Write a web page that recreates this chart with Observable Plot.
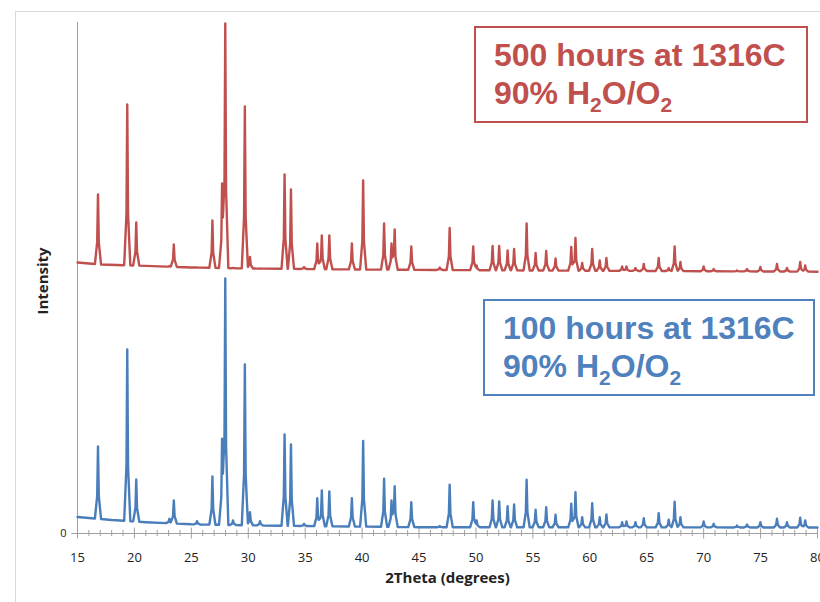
<!DOCTYPE html>
<html>
<head>
<meta charset="utf-8">
<script src="https://cdn.jsdelivr.net/npm/d3@7"></script>
<script src="https://cdn.jsdelivr.net/npm/@observablehq/plot@0.6"></script>
<style>
  body { margin: 0; background: #fff; }
  #wrap { position: relative; width: 820px; height: 602px; overflow: hidden; background: #fff; }
  #border { position: absolute; left: 15px; top: 11px; width: 900px; height: 700px; border: 1px solid #d9d9d9; }
  #chart { position: absolute; left: 0; top: 0; }
  .box { position: absolute; box-sizing: border-box; background: #fff;
         font-family: "Liberation Sans", Arial, sans-serif; font-weight: bold;
         font-size: 32px; line-height: 38px; white-space: nowrap; }
  .box .sub { font-size: 21px; position: relative; top: 8px; vertical-align: baseline; line-height: 0; }
  #boxRed { left: 474px; top: 26px; width: 334px; height: 97px; border: 2px solid #c0504d; color: #c0504d; padding: 8px 0 0 18px; }
  #boxBlue { left: 483px; top: 299px; width: 332px; height: 97px; border: 2px solid #4f81bd; color: #4f81bd; padding: 8px 0 0 18px; }
</style>
</head>
<body>
<div id="wrap">
  <div id="border"></div>
  <div id="chart"></div>
  <div class="box" id="boxRed"><div>500 hours at 1316C</div><div>90% H<span class="sub">2</span>O/O<span class="sub">2</span></div></div>
  <div class="box" id="boxBlue"><div>100 hours at 1316C</div><div>90% H<span class="sub">2</span>O/O<span class="sub">2</span></div></div>
</div>
<script>
// Peak positions (2Theta, degrees), shared by both patterns
const peakPos = [16.8, 19.37, 20.16, 23.07, 23.46, 25.5, 26.85, 27.7, 27.98, 28.66,
  29.7, 30.15, 31.03, 33.19, 33.75, 34.9, 36.06, 36.46, 37.12, 39.1,
  40.09, 41.93, 42.58, 42.86, 44.32, 46.82, 47.69, 49.76, 50.06, 51.46,
  52.04, 52.78, 53.35, 54.45, 55.24, 56.17, 56.99, 58.37, 58.74, 59.33,
  60.21, 60.87, 61.46, 62.84, 63.22, 64.01, 64.74, 66.05, 66.93, 67.45,
  67.96, 70.0, 70.88, 72.93, 73.81, 74.98, 76.44, 77.32, 78.48, 78.92];

// 500 hours pattern (red, offset upward): apex intensity of each peak
const redApex = [3390, 4290, 3110, 2675, 2890, 2660, 3130, 3500, 5100, 2655,
  4270, 2765, 2650, 3590, 3440, 2665, 2900, 2980, 2980, 2900,
  3530, 3100, 2900, 3040, 2870, 2660, 3055, 2870, 2680, 2875,
  2875, 2830, 2845, 3100, 2805, 2825, 2750, 2865, 2955, 2705,
  2845, 2730, 2755, 2670, 2670, 2655, 2695, 2755, 2655, 2870,
  2715, 2670, 2645, 2630, 2645, 2665, 2695, 2655, 2715, 2680];
const redBaseDeg = [15, 17, 20, 25, 30, 40, 55, 80];
const redBaseVal = [2710, 2690, 2680, 2660, 2650, 2640, 2630, 2618];

// 100 hours pattern (blue)
const blueApex = [870, 1840, 540, 147, 330, 123, 570, 947, 2550, 130,
  1690, 213, 123, 990, 890, 97, 353, 430, 420, 353,
  925, 547, 330, 473, 313, 75, 487, 313, 130, 330,
  320, 273, 290, 537, 237, 263, 187, 297, 413, 163,
  303, 163, 190, 113, 120, 113, 153, 203, 137, 317,
  163, 120, 97, 80, 90, 113, 147, 113, 157, 130];
const blueBaseDeg = [15, 16, 18, 21, 25, 30, 35, 45, 80];
const blueBaseVal = [165, 155, 135, 113, 92, 82, 75, 63, 60];

const xTicks = [15, 20, 25, 30, 35, 40, 45, 50, 55, 60, 65, 70, 75, 80];
const xLabel = "2Theta (degrees)";
const yLabel = "Intensity";

// peak outline: sharp top, slightly wider foot
const shape = [[0, 1], [0.07, 0.32], [0.27, 0]];
function peakFrac(d) {
  d = Math.abs(d);
  for (let k = 1; k < shape.length; k++) {
    const [d0, f0] = shape[k - 1], [d1, f1] = shape[k];
    if (d <= d1) return f0 + (f1 - f0) * (d - d0) / (d1 - d0);
  }
  return 0;
}
function pattern(apex, baseDeg, baseVal) {
  const base = d3.scaleLinear(baseDeg, baseVal);
  const xs = new Set([15, 80, ...baseDeg]);
  peakPos.forEach(p => shape.forEach(([d]) => { xs.add(p - d); xs.add(p + d); }));
  return [...xs].filter(x => x >= 15 && x <= 80).sort((a, b) => a - b).map(x => ({
    x,
    y: base(x) + d3.sum(peakPos, (p, i) => Math.max(0, apex[i] - base(p)) * peakFrac(x - p))
  }));
}
const red = pattern(redApex, redBaseDeg, redBaseVal);
const blue = pattern(blueApex, blueBaseDeg, blueBaseVal);
const minorTicks = d3.range(15, 81, 1).filter(d => d % 5 !== 0);

const axisColor = "#a0a0a0";
const chart = Plot.plot({
  width: 820, height: 602,
  marginLeft: 77, marginRight: 3, marginTop: 22, marginBottom: 69,
  style: { fontFamily: "'Open Sans', 'Liberation Sans', sans-serif", color: "#222", background: "transparent" },
  x: { domain: [15, 80], axis: null },
  y: { domain: [0, 5110], axis: null },
  marks: [
    Plot.ruleX([15], { y1: 0, y2: 5110, stroke: axisColor }),
    Plot.ruleY([0], { x1: 15, x2: 80, stroke: axisColor }),
    Plot.ruleX(minorTicks, { x: d => d, y1: -30, y2: 30, stroke: axisColor }),
    Plot.ruleX(xTicks, { x: d => d, y1: -55, y2: 55, stroke: axisColor }),
    Plot.ruleY([0], { x1: 14.5, x2: 15, stroke: axisColor }),
    Plot.line(red, { x: "x", y: "y", stroke: "#c0504d", strokeWidth: 2.4, strokeLinejoin: "round" }),
    Plot.line(blue, { x: "x", y: "y", stroke: "#4a7ebb", strokeWidth: 2.4, strokeLinejoin: "round" }),
    Plot.text(xTicks, { x: d => d, y: 0, dy: 24, text: d => String(d), fontSize: 13, fill: "#222" }),
    Plot.text([0], { x: 15, y: 0, dx: -14, text: d => String(d), fontSize: 11, fill: "#222" }),
    Plot.text([xLabel], { frameAnchor: "bottom", lineAnchor: "middle", textAnchor: "middle", dy: 45, fontSize: 15, fontWeight: "bold", fill: "#222" }),
    Plot.text([yLabel], { frameAnchor: "left", lineAnchor: "middle", textAnchor: "middle", dx: -34, dy: 3, rotate: -90, fontSize: 15, fontWeight: "bold", fill: "#222" })
  ]
});
document.getElementById("chart").appendChild(chart);
</script>
</body>
</html>
